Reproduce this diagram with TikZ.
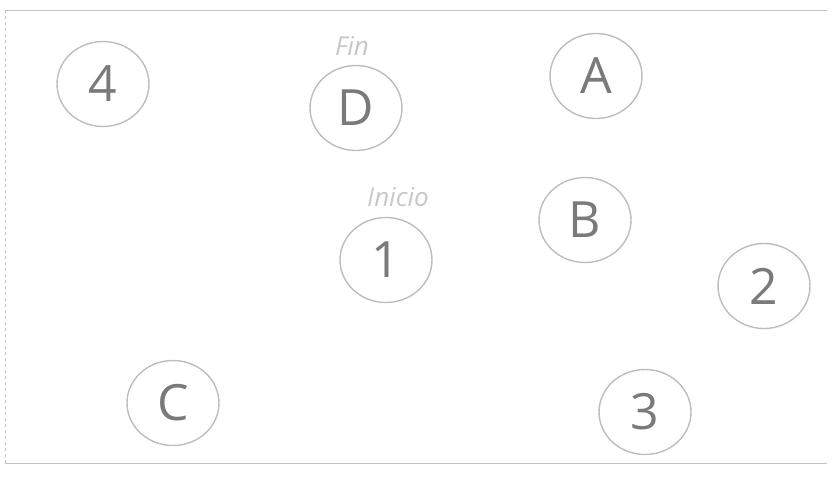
\documentclass[tikz,border=0pt]{standalone}
\usepackage{fontspec}
\setmainfont{Open Sans}
\usetikzlibrary{shapes.geometric}
\definecolor{ringgray}{HTML}{BDBDBD}
\definecolor{txtgray}{HTML}{7A7A7A}
\definecolor{lblgray}{HTML}{C8C8C8}
\definecolor{framegray}{HTML}{C4C4C4}
\begin{document}
\begin{tikzpicture}[x=1pt,y=-1pt,
  ring/.style={draw=ringgray, line width=1.4pt, ellipse, minimum width=92pt, minimum height=85pt, inner sep=0pt,
     text=txtgray, font=\fontsize{50}{50}\selectfont},
  lbl/.style={text=lblgray, font=\itshape\fontsize{26}{26}\selectfont, inner sep=0pt}]
\useasboundingbox (0,0) rectangle (834,477);
\coordinate (tl) at (5,10);
\coordinate (tr) at (827,10);
\coordinate (bl) at (5,463);
\coordinate (br) at (827,463);
\draw[framegray, line width=1pt] (tl) -- (tr);
\draw[framegray, line width=1pt] (bl) -- (br);
\draw[framegray, line width=0.8pt, dashed] (tl) -- (bl);
\node[ring] (n4) at (103,84) {4};
\node[ring] (nD) at (356,108) {D};
\node[ring] (nA) at (596,76) {A};
\node[ring] (nB) at (585,220) {B};
\node[ring] (n1) at (386,260) {1};
\node[ring] (n2) at (764,286) {2};
\node[ring] (nC) at (173,403) {C};
\node[ring] (n3) at (645,412) {3};
\node[lbl] (fin) at (352,46) {Fin};
\node[lbl] (inicio) at (398,197) {Inicio};
\end{tikzpicture}
\end{document}
